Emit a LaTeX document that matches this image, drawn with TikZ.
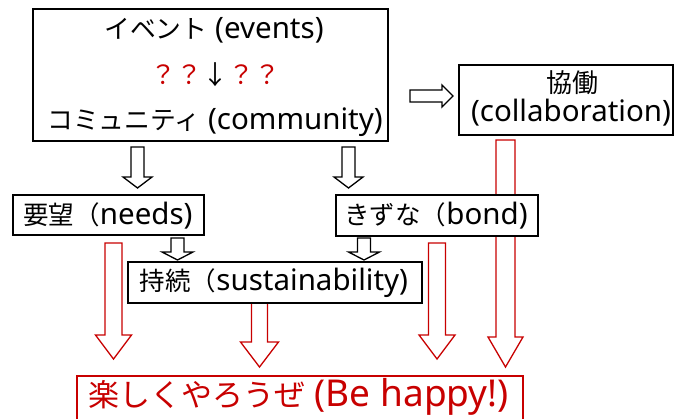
\documentclass[tikz,border=0pt]{standalone}
\usepackage{fontspec}
\setmainfont{Noto Sans}
\newfontfamily\jp{Noto Sans CJK JP}
\definecolor{dred}{RGB}{200,0,0}
\newcommand\fs[1]{\fontsize{#1}{#1}\selectfont}
\newcommand\hdown[7]{%
  \draw[#1] ({#2-#6},{#3}) -- ({#2+#6},{#3}) -- ({#2+#6},{#4}) -- ({#2+#7},{#4}) -- ({#2},{#5}) -- ({#2-#7},{#4}) -- ({#2-#6},{#4}) -- cycle;}
\tikzset{
  box/.style={draw=black, line width=2pt, fill=white, rectangle, inner sep=0pt},
  harrow/.style={draw=black, line width=1.3pt, fill=white},
  rarrow/.style={draw=dred, line width=1.3pt, fill=white},
  txt/.style={inner sep=0pt, font=\fs{29.5}},
}
\begin{document}
\begin{tikzpicture}[x=1pt,y=-1pt]
\useasboundingbox (0,0) rectangle (675,418);
% red arrows (behind boxes)
\hdown{rarrow}{113.5}{243}{335}{359}{8.5}{18}
\hdown{rarrow}{259.5}{303}{342}{367}{8}{19}
\hdown{rarrow}{437}{243}{335}{359}{8.5}{18}
\hdown{rarrow}{505.5}{140}{337}{367}{9.5}{17.5}
% boxes
\node[box, minimum width=355pt, minimum height=132pt] (main) at (210.5,75) {};
\node[txt] (ev) at (214,30) {{\fs{25.8}\jp イベント} (events)};
\node[txt] (qq) at (215,75) {\fs{26}\jp\textcolor{dred}{？？}↓\textcolor{dred}{？？}};
\node[txt] (co) at (215,122) {{\fs{25.8}\jp コミュニティ} (community)};
\node[box, minimum width=214pt, minimum height=70pt] (collab) at (566,100) {};
\node[txt] (kd) at (572,83) {\fs{26}\jp 協働};
\node[txt] (cl) at (571,113) {(collaboration)};
\node[box, minimum width=191pt, minimum height=40pt] (needs) at (108.5,215) {};
\node[txt] (nt) at (108,216) {{\fs{25.5}\jp 要望（}needs)};
\node[box, minimum width=202pt, minimum height=41pt] (bond) at (437,215.5) {};
\node[txt] (bt) at (436,216) {{\fs{25.5}\jp きずな（}bond)};
\node[box, minimum width=294pt, minimum height=41pt] (sus) at (275,282.5) {};
\node[txt] (st) at (274,283) {{\fs{25.5}\jp 持続（}sustainability)};
\node[box, draw=dred, minimum width=446pt, minimum height=44pt] (happy) at (300,398) {};
\node[txt, text=dred, font=\fs{37}] (ht) at (298.5,397) {{\fs{31}\jp 楽しくやろうぜ} (Be happy!)};
% black hollow arrows
\hdown{harrow}{137.5}{147}{177}{188}{6.5}{14.5}
\hdown{harrow}{348.5}{147}{177}{188}{6.5}{14.5}
\hdown{harrow}{177.5}{238}{252}{260}{6.5}{15.5}
\hdown{harrow}{364}{238}{252}{260}{6.5}{15.5}
\draw[harrow] (410,90) -- (442,90) -- (442,85) -- (453,96) -- (442,107) -- (442,102) -- (410,102) -- cycle;
\end{tikzpicture}
\end{document}
